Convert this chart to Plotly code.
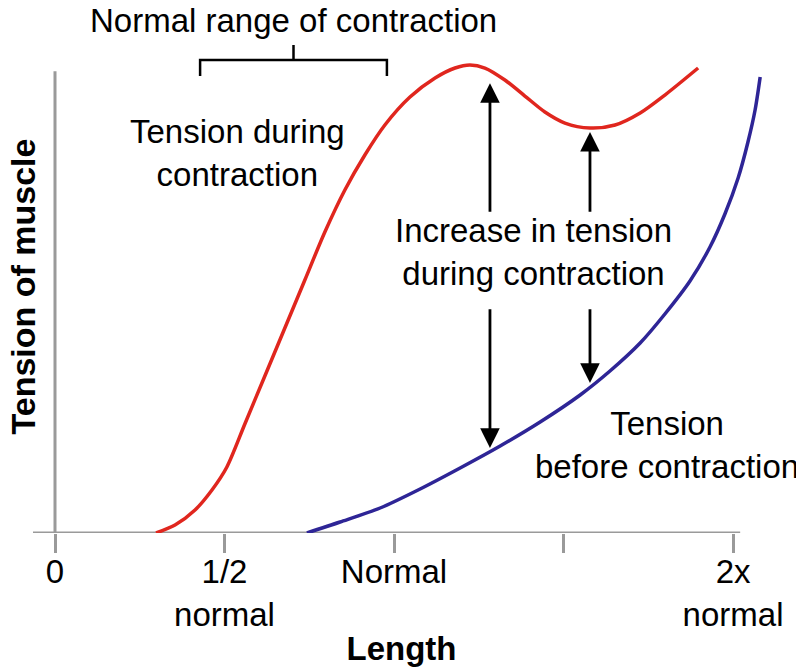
import plotly.graph_objects as go

# Length in units of normal resting length, tension in arbitrary units
red_x = [0.298, 0.354, 0.413, 0.463, 0.507, 0.560, 0.619, 0.678, 0.737, 0.796,
         0.855, 0.914, 0.973, 1.047, 1.121, 1.180, 1.224, 1.268, 1.327, 1.386,
         1.445, 1.504, 1.578, 1.652, 1.726, 1.799, 1.897]
red_y = [0.0, 1.67, 4.81, 9.00, 13.81, 22.80, 32.85, 42.89, 52.93, 62.97,
         71.76, 79.08, 85.36, 91.21, 95.19, 97.28, 97.91, 97.28, 94.77, 91.42,
         88.08, 85.77, 84.73, 85.36, 87.87, 91.63, 97.28]

blue_x = [0.743, 0.841, 0.959, 1.077, 1.195, 1.313, 1.431, 1.549, 1.637, 1.726,
          1.799, 1.873, 1.932, 1.976, 2.015, 2.044, 2.065, 2.080]
blue_y = [0.0, 2.30, 5.23, 9.21, 13.60, 18.20, 23.22, 28.87, 33.89, 39.75,
          45.82, 52.72, 59.83, 66.74, 74.27, 81.80, 88.49, 95.40]

tick_vals = [0, 0.5, 1, 1.5, 2]
tick_text = ["0", "1/2<br>normal", "Normal", "", "2x<br>normal"]

# arrows: x position, tail and tip of the up arrows / down arrows
arrow_x = [1.283, 1.578]
up_tail = [66.9, 66.9]
up_tip = [94.1, 83.9]
down_tail = [47.1, 47.1]
down_tip = [17.8, 31.4]

normal_range = [0.428, 0.979]

FONT = "Liberation Sans, Arial, Helvetica, sans-serif"
GRAY = "#9a9a9a"
RED = "#e0261e"
BLUE = "#2e2596"

fig = go.Figure()
fig.add_trace(go.Scatter(x=red_x, y=red_y, mode="lines",
                         line=dict(color=RED, width=3.5, shape="spline", smoothing=0.8),
                         hoverinfo="skip"))
fig.add_trace(go.Scatter(x=blue_x, y=blue_y, mode="lines",
                         line=dict(color=BLUE, width=3.5, shape="spline", smoothing=0.8),
                         hoverinfo="skip"))

# axis lines
fig.add_shape(type="line", x0=-0.0649, x1=2.021, y0=0, y1=0,
              line=dict(color=GRAY, width=3), layer="below")
fig.add_shape(type="line", x0=0, x1=0, y0=0, y1=96.6,
              line=dict(color=GRAY, width=3), layer="below")

# bracket for normal range of contraction
mid = (normal_range[0] + normal_range[1]) / 2
fig.add_shape(type="path",
              path=f"M {normal_range[0]} 95.6 L {normal_range[0]} 98.95 "
                   f"L {normal_range[1]} 98.95 L {normal_range[1]} 95.6",
              line=dict(color="black", width=2.5))
fig.add_shape(type="line", x0=mid, x1=mid, y0=98.95, y1=102.1,
              line=dict(color="black", width=2.5))

annotations = []
for x, t0, t1 in zip(arrow_x, up_tail, up_tip):
    annotations.append(dict(x=x, y=t1, ax=x, ay=t0, xref="x", yref="y",
                            axref="x", ayref="y", showarrow=True, text="",
                            arrowhead=2, arrowsize=1.4, arrowwidth=2.8,
                            arrowcolor="black"))
for x, t0, t1 in zip(arrow_x, down_tail, down_tip):
    annotations.append(dict(x=x, y=t1, ax=x, ay=t0, xref="x", yref="y",
                            axref="x", ayref="y", showarrow=True, text="",
                            arrowhead=2, arrowsize=1.4, arrowwidth=2.8,
                            arrowcolor="black"))

txt = dict(showarrow=False, xref="x", yref="y", font=dict(family=FONT, size=33, color="black"))
annotations += [
    dict(x=mid, y=1.0386, text="Normal range of contraction",
         showarrow=False, xref="x", yref="paper", yanchor="middle",
         font=dict(family=FONT, size=33, color="black")),
    dict(x=0.537, y=79.5, text="Tension during<br>contraction", **txt),
    dict(x=1.41, y=58.8, text="Increase in tension<br>during contraction", **txt),
    dict(x=1.805, y=18.4, text="Tension<br>before contraction", **txt),
    dict(x=-0.01357, y=0.5, xref="paper", yref="paper", showarrow=False,
         xanchor="center", yanchor="middle",
         text="<b>Tension of muscle</b>", textangle=-90,
         font=dict(family=FONT, size=34, color="black")),
]

# the page body adds an 8px margin, so the figure is 8px smaller on each side
fig.update_layout(
    width=796, height=659,
    margin=dict(l=25, r=34, t=32, b=134),
    paper_bgcolor="white", plot_bgcolor="white",
    showlegend=False,
    font=dict(family=FONT, color="black"),
    annotations=annotations,
)
fig.update_xaxes(range=[-0.0649, 2.109], showgrid=False, zeroline=False, showline=False,
                 automargin=False,
                 tickvals=tick_vals, ticktext=tick_text, ticks="outside",
                 ticklen=19, tickwidth=3, tickcolor=GRAY, ticklabelstandoff=-10,
                 tickfont=dict(family=FONT, size=33, color="black"),
                 title=dict(text="<b>Length</b>", font=dict(family=FONT, size=33), standoff=5))
fig.update_yaxes(range=[0, 103.14], showgrid=False, zeroline=False, showline=False,
                 automargin=False, showticklabels=False, ticks="")

fig.write_html("out.html")
